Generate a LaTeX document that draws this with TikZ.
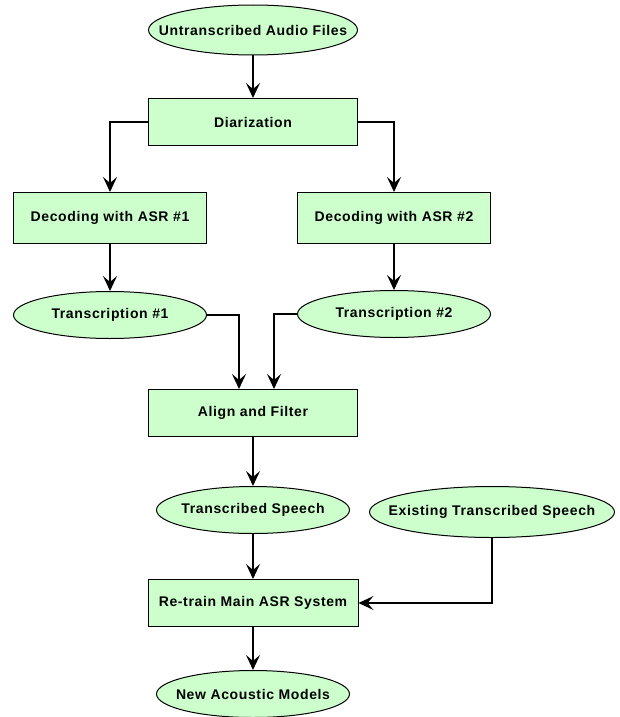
\documentclass[tikz,border=0pt]{standalone}
\usepackage{fontspec}
\setmainfont[LetterSpace=4.5]{Liberation Sans}
\usepackage{xcolor}
\usepackage{tikz}
\usetikzlibrary{shapes.geometric, arrows.meta}
\definecolor{paleGreen}{HTML}{CCFFCC}
\newcommand{\ovaltext}[1]{\makebox[0pt]{#1}}

\begin{document}
\begin{tikzpicture}[x=1pt, y=-1pt, >={Stealth[length=15pt, width=14pt, inset=6pt]},
        box/.style={draw, fill=paleGreen, line width=1pt, inner sep=0pt,
            minimum width=209pt, minimum height=47pt,
            font=\fontsize{14}{16}\selectfont\bfseries},
        oval/.style={draw, ellipse, fill=paleGreen, line width=1pt, inner sep=0pt,
            minimum width=193pt, minimum height=47pt,
            font=\fontsize{14}{16}\selectfont\bfseries},
        flow/.style={->, line width=1.3pt}]
                \useasboundingbox (0,0) rectangle (619,717);
                
                % 1. Các khối chính
                \node[oval, minimum width=209pt, minimum height=50pt] (audio) at (253,30) {\ovaltext{Untranscribed Audio Files}};
                \node[box] (diar) at (253,122) {Diarization};
                \node[box, minimum width=193pt, minimum height=51pt] (decA) at (110,218) {Decoding with ASR \#1};
                \node[box, minimum width=193pt, minimum height=51pt] (decB) at (394,218) {Decoding with ASR \#2};
                \node[oval] (transA) at (110,315) {\ovaltext{Transcription \#1}};
                \node[oval] (transB) at (394,314) {\ovaltext{Transcription \#2}};
                \node[box] (align) at (253,413) {Align and Filter};
                \node[oval] (speech) at (253,510) {\ovaltext{Transcribed Speech}};
                \node[oval, minimum width=245pt, minimum height=51pt] (exist) at (492,512) {\ovaltext{Existing Transcribed Speech}};
                \node[box, minimum width=210pt] (retrain) at (253,603) {Re-train Main ASR System};
                \node[oval] (models) at (253,694) {\ovaltext{New Acoustic Models}};
                
                % 2. Mũi tên
                \draw[flow] (audio) -- (diar);
                \draw[flow] (diar.west) -| (decA);
                \draw[flow] (diar.east) -| (decB);
                \draw[flow] (decA) -- (transA);
                \draw[flow] (decB) -- (transB);
                \draw[flow] (transA.east) -| ([xshift=-14pt]align.north);
                \draw[flow] (transB.west) -| ([xshift=21pt]align.north);
                \draw[flow] (align) -- (speech);
                \draw[flow] (speech) -- (retrain);
                \draw[flow] (exist.south) |- (retrain.east);
                \draw[flow] (retrain) -- (models);
            \end{tikzpicture}
\end{document}
